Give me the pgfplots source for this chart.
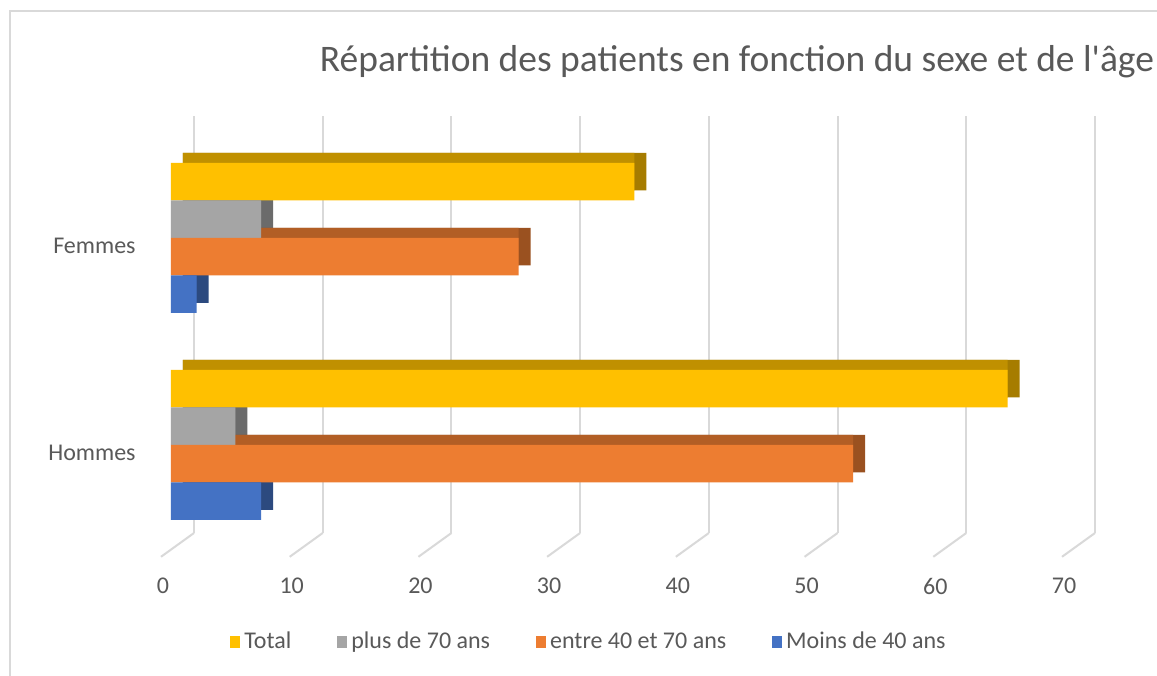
\documentclass[border=0pt]{standalone}
\usepackage{fontspec}
\setmainfont{Carlito}
\usepackage{pgfplots}
\pgfplotsset{compat=1.18}
\usepackage{pgfplotstable}
\definecolor{cTot}{HTML}{FFC000}\definecolor{tTot}{HTML}{C09000}\definecolor{sTot}{HTML}{A67C00}
\definecolor{cGr}{HTML}{A5A5A5}\definecolor{tGr}{HTML}{7C7C7C}\definecolor{sGr}{HTML}{6B6B6B}
\definecolor{cOr}{HTML}{ED7D31}\definecolor{tOr}{HTML}{B25E25}\definecolor{sOr}{HTML}{9A5120}
\definecolor{cBl}{HTML}{4472C4}\definecolor{tBl}{HTML}{335693}\definecolor{sBl}{HTML}{2C4A7F}
\definecolor{gridc}{HTML}{D9D9D9}\definecolor{txt}{HTML}{595959}
% cat: 0 = Hommes, 1 = Femmes
\pgfplotstableread{
cat val
0 65
1 36
}\dtot
\pgfplotstableread{
cat val
0 5
1 7
}\dplus
\pgfplotstableread{
cat val
0 53
1 27
}\dentre
\pgfplotstableread{
cat val
0 7
1 2
}\dmoins
\pgfplotsset{sqleg/.style={legend image code/.code={\fill[##1] (0pt,-3pt) rectangle (5pt,3pt);}}}
\begin{document}
\begin{tikzpicture}
\useasboundingbox (0,0) rectangle (578.5pt,337.5pt);
\fill[white] (0,0) rectangle (578.5pt,337.5pt);
\draw[gridc, line width=1pt] (4.75pt,-1pt) -- (4.75pt,331.75pt) -- (580pt,331.75pt);
\node[anchor=base, font=\fontsize{18.75}{22}\selectfont, text=txt, inner sep=0pt] at (368.5pt,301.5pt) {Répartition des patients en fonction du sexe et de l\textquotesingle âge};
\begin{axis}[
  at={(85.5pt,61.5pt)}, anchor=south west,
  scale only axis, width=450.5pt, height=208.5pt,
  xmin=0, xmax=70, ymin=-0.517, ymax=1.497,
  clip=false, xbar, bar width=18.75pt,
  axis line style={draw=none},
  major tick length=0pt,
  xtick={0,10,...,70}, ytick={0,1}, yticklabels={Hommes,Femmes},
  xmajorgrids,
  major grid style={draw=gridc, line width=1pt, xshift=11.5pt, yshift=9.5pt},
  /pgf/number format/assume math mode=true,
  tick label style={font=\fontsize{12}{14}\selectfont, text=txt},
  xticklabel style={anchor=center, xshift=-4pt, yshift=-17pt},
  yticklabel style={anchor=east, inner sep=0pt, xshift=-17.5pt, yshift=-3.75pt},
  legend columns=4,
  legend style={at={(0.0655,-0.2158)}, anchor=west, draw=none, fill=none, inner sep=0pt,
    font=\fontsize{12}{14}\selectfont, text=txt,
    /tikz/every even column/.append style={column sep=21pt}},
]
\pgfplotsinvokeforeach{0,10,...,70}{
  \draw[gridc, line width=1pt] (axis cs:#1,-0.517) ++(11.5pt,9.5pt) -- ++(-16.5pt,-11.9pt);
}
% side faces
\addplot[fill=sTot, draw=none, bar shift=28.125pt, xshift=6pt, yshift=5pt, forget plot] table[x=val,y=cat]{\dtot};
\addplot[fill=sGr, draw=none, bar shift=9.375pt, xshift=6pt, yshift=5pt, forget plot] table[x=val,y=cat]{\dplus};
\addplot[fill=sOr, draw=none, bar shift=-9.375pt, xshift=6pt, yshift=5pt, forget plot] table[x=val,y=cat]{\dentre};
\addplot[fill=sBl, draw=none, bar shift=-28.125pt, xshift=6pt, yshift=5pt, forget plot] table[x=val,y=cat]{\dmoins};
% top faces
\addplot[fill=tTot, draw=none, bar shift=28.125pt, xshift=6pt, yshift=5pt, forget plot] table[x expr=\thisrow{val}-0.932,y=cat]{\dtot};
\addplot[fill=tGr, draw=none, bar shift=9.375pt, xshift=6pt, yshift=5pt, forget plot] table[x expr=\thisrow{val}-0.932,y=cat]{\dplus};
\addplot[fill=tOr, draw=none, bar shift=-9.375pt, xshift=6pt, yshift=5pt, forget plot] table[x expr=\thisrow{val}-0.932,y=cat]{\dentre};
\addplot[fill=tBl, draw=none, bar shift=-28.125pt, xshift=6pt, yshift=5pt, forget plot] table[x expr=\thisrow{val}-0.932,y=cat]{\dmoins};
% front faces
\addplot[fill=cTot, draw=none, bar shift=28.125pt, sqleg] table[x=val,y=cat]{\dtot};
\addplot[fill=cGr, draw=none, bar shift=9.375pt, sqleg] table[x=val,y=cat]{\dplus};
\addplot[fill=cOr, draw=none, bar shift=-9.375pt, sqleg] table[x=val,y=cat]{\dentre};
\addplot[fill=cBl, draw=none, bar shift=-28.125pt, sqleg] table[x=val,y=cat]{\dmoins};
\legend{Total, plus de 70 ans, entre 40 et 70 ans, Moins de 40 ans}
\end{axis}
\end{tikzpicture}
\end{document}
